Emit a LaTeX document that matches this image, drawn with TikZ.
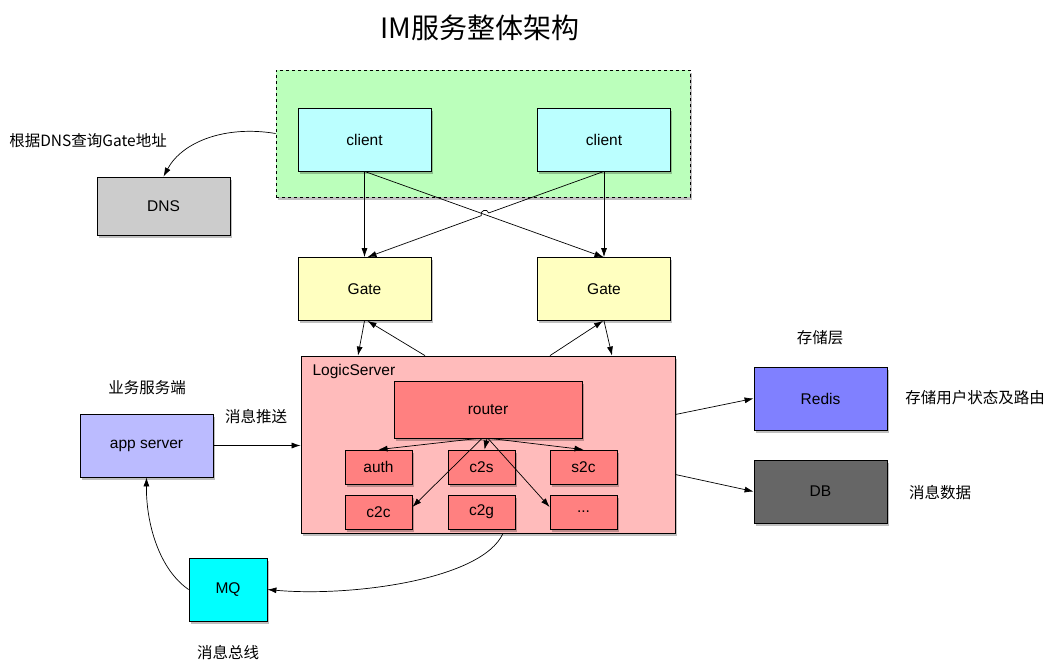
\documentclass[tikz,border=0pt]{standalone}
\usepackage{fontspec}
\setmainfont{Liberation Sans}
\newfontfamily\cjk{Noto Sans CJK SC}
\usetikzlibrary{arrows.meta,shadows}
\definecolor{zonegreen}{HTML}{BBFFBB}
\definecolor{clientcyan}{HTML}{BBFFFF}
\definecolor{gateyellow}{HTML}{FFFFC0}
\definecolor{logicpink}{HTML}{FFBBBB}
\definecolor{modred}{HTML}{FF8080}
\definecolor{applilac}{HTML}{BBBBFF}
\definecolor{redisblue}{HTML}{8080FF}
\definecolor{dbgray}{HTML}{666666}
\definecolor{dnsgray}{HTML}{CCCCCC}
\definecolor{mqcyan}{HTML}{00FFFF}
\begin{document}
\begin{tikzpicture}[x=1pt, y=-1pt,
  box/.style={draw, line width=0.8pt, minimum width=133pt, minimum height=63pt,
    font=\fontsize{15.5}{18}\selectfont,
    drop shadow={shadow xshift=1.5pt, shadow yshift=-2.5pt, fill=black, opacity=0.25}},
  modbox/.style={box, fill=modred, minimum width=67pt, minimum height=34pt},
  note/.style={font=\cjk\fontsize{15.5}{18}\selectfont},
  link/.style={-{Latex[length=9pt,width=6pt]}, line width=0.7pt}]
\useasboundingbox (0,0) rectangle (1052,670);
\node[font=\cjk\fontsize{28}{32}\selectfont] (title) at (480, 28) {IM服务整体架构};
% clients
\node[box, dashed, fill=zonegreen, minimum width=414pt, minimum height=127pt] (zone) at (483, 133.5) {};
\node[box, fill=clientcyan] (cl) at (364.5, 139.5) {client};
\node[box, fill=clientcyan] (cr) at (604, 139.5) {client};
\node[box, fill=dnsgray, minimum height=58pt] (dns) at (163.5, 206) {DNS};
\node[note] (dnsnote) at (88, 141) {根据DNS查询Gate地址};
% gates
\node[box, fill=gateyellow] (gl) at (364.5, 289) {Gate};
\node[box, fill=gateyellow] (gr) at (604, 289) {Gate};
% logic server
\node[box, fill=logicpink, minimum width=374pt, minimum height=177pt] (ls) at (488, 444.5) {};
\node[anchor=west, font=\fontsize{15.5}{18}\selectfont] (lsname) at (309, 371) {LogicServer};
\node[box, fill=modred, minimum width=188pt, minimum height=57pt] (router) at (488, 409.5) {router};
\node[modbox] (auth) at (378.5, 467) {auth};
\node[modbox] (c2s) at (481.5, 467) {c2s};
\node[modbox] (s2c) at (583.5, 467) {s2c};
\node[modbox] (c2c) at (378.5, 512) {c2c};
\node[modbox] (c2g) at (481.5, 512) {c2g};
\node[modbox] (more) at (583.5, 512) {...};
% app side
\node[box, fill=applilac] (app) at (146.5, 445.5) {app server};
\node[note] (appnote) at (147, 388) {业务服务端};
\node[note] (push) at (256, 417) {消息推送};
\node[box, fill=mqcyan, minimum width=78pt] (mq) at (228, 589.5) {MQ};
\node[note] (mqnote) at (228, 653) {消息总线};
% storage
\node[note] (storenote) at (820, 338) {存储层};
\node[box, fill=redisblue] (redis) at (820.5, 398.5) {Redis};
\node[note] (redisnote) at (975, 398) {存储用户状态及路由};
\node[box, fill=dbgray] (db) at (820.5, 491.5) {DB};
\node[note] (dbnote) at (940, 493) {消息数据};
% connectors
\coordinate (hopa) at (488.8, 212.9);
\coordinate (hopb) at (481.2, 215.7);
\draw[link] (cl.south) -- (gl.north);
\draw[link] (cl.south) -- ([xshift=-0.5pt]gr.north);
\draw[link] (cr.south) -- (gr.north);
\draw[link] (cr.south) -- (hopa) .. controls (487.0, 207.9) and (479.4, 210.7) .. (hopb) -- ([xshift=3pt]gl.north);
\draw[link] (gl.south) -- ([xshift=-130pt]ls.north);
\draw[link] ([xshift=-63pt]ls.north) -- ([xshift=3pt]gl.south);
\draw[link] ([xshift=62pt]ls.north) -- ([xshift=-1pt]gr.south);
\draw[link] (gr.south) -- ([xshift=124pt]ls.north);
\draw[link] (zone.west) .. controls (225, 125) and (182, 142) .. (dns.north);
\draw[link] ([xshift=-10pt]router.south) -- (auth.north);
\draw[link] ([xshift=-1pt]router.south) -- ([xshift=3pt]c2s.north);
\draw[link] ([xshift=2pt]router.south) -- (s2c.north);
\draw[link] ([xshift=-6pt]router.south) -- ([yshift=5pt]c2c.east);
\draw[link] (router.south) -- ([yshift=5pt]more.west);
\draw[link] (app.east) -- (app.east -| ls.west);
\draw[link] ([yshift=30pt]ls.east) -- (redis.west);
\draw[link] ([yshift=-30pt]ls.east) -- (db.west);
\draw[link] ([xshift=15pt]ls.south) .. controls (482, 580) and (350, 597) .. (mq.east);
\draw[link] (mq.west) .. controls (160, 570) and (146, 525) .. (app.south);
\end{tikzpicture}
\end{document}
